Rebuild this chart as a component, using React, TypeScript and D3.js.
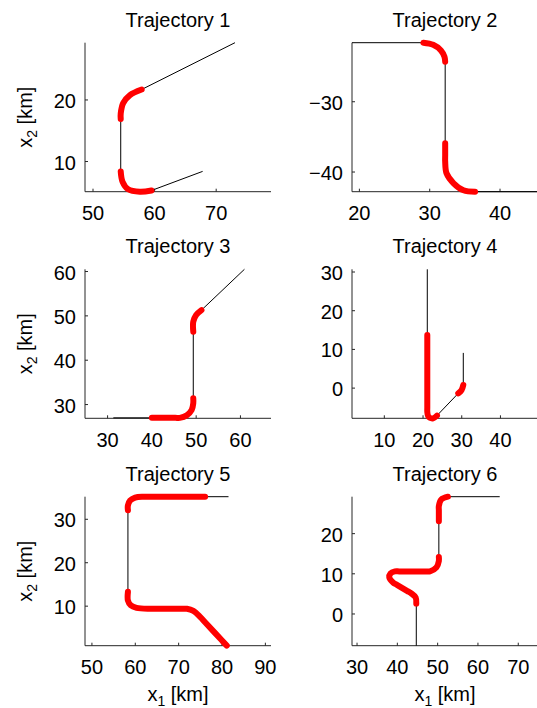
import React from 'react';
import * as d3 from 'd3';

type P = [number, number];

const titles = ['Trajectory 1', 'Trajectory 2', 'Trajectory 3', 'Trajectory 4', 'Trajectory 5', 'Trajectory 6'];

const xDomains: P[] = [
  [48.7, 78.9],
  [18.95, 45.4],
  [24.9, 66.9],
  [1.65, 49.7],
  [48.4, 91.3],
  [28.75, 74.9],
];
const yDomains: P[] = [
  [5.1, 29.3],
  [-42.8, -21.6],
  [26.9, 60.5],
  [-7.8, 30.7],
  [0.9, 35.2],
  [-7.9, 29.2],
];

const xTicks: number[][] = [
  [50, 60, 70],
  [20, 30, 40],
  [30, 40, 50, 60],
  [10, 20, 30, 40],
  [50, 60, 70, 80, 90],
  [30, 40, 50, 60, 70],
];
const yTicks: number[][] = [
  [10, 20],
  [-40, -30],
  [30, 40, 50, 60],
  [0, 10, 20, 30],
  [10, 20, 30],
  [0, 10, 20],
];

// pieces alternate: black (free flight), red (manoeuvre), black, ...
const traj1: P[][] = [
  [[73.05, 29.3], [57.9, 21.7]],
  [[57.9, 21.7], [56.0, 20.8], [54.9, 19.5], [54.5, 17.8], [54.5, 16.9]],
  [[54.5, 16.9], [54.5, 8.4]],
  [[54.5, 8.4], [54.8, 6.7], [55.7, 5.5], [57.6, 5.1], [59.5, 5.3]],
  [[59.5, 5.3], [67.8, 8.4]],
];
const traj2: P[][] = [
  [[18.95, -21.6], [29.1, -21.6]],
  [[29.1, -21.6], [30.5, -21.9], [31.6, -22.7], [32.1, -23.6], [32.2, -24.3]],
  [[32.2, -24.3], [32.2, -35.9]],
  [[32.2, -35.9], [32.2, -37.6], [32.2, -38.5], [32.4, -40.2], [33.4, -41.6], [34.8, -42.6], [36.45, -42.8]],
  [[36.45, -42.8], [45.4, -42.8]],
];
const traj3: P[][] = [
  [[31.3, 27.0], [40.0, 27.0]],
  [[40.0, 27.0], [45.3, 27.0], [46.3, 27.0], [47.9, 27.6], [49.0, 28.8], [49.35, 30.3], [49.35, 31.4]],
  [[49.35, 31.4], [49.35, 46.4]],
  [[49.35, 46.4], [49.35, 48.7], [50.0, 50.2], [51.2, 51.3]],
  [[51.2, 51.3], [60.9, 60.5]],
];
const traj4: P[][] = [
  [[21.1, 30.7], [21.1, 13.7]],
  [[21.1, 13.7], [21.1, -5.0], [21.1, -6.1], [21.3, -7.2], [21.8, -7.7], [22.6, -7.8], [23.6, -7.1]],
  [[23.6, -7.1], [29.1, -1.35]],
  [[29.1, -1.35], [29.95, -0.5], [30.4, 0.8]],
  [[30.4, 0.8], [30.4, 9.1]],
];
const traj5: P[][] = [
  [[81.5, 35.2], [76.1, 35.2]],
  [[76.1, 35.2], [63.0, 35.2], [61.9, 35.2], [59.95, 35.0], [58.8, 34.3], [58.3, 33.2], [58.3, 32.1]],
  [[58.3, 32.1], [58.3, 13.3]],
  [[58.3, 13.3], [58.3, 11.3], [58.95, 10.2], [60.3, 9.6], [63.4, 9.4], [64.5, 9.4], [70.8, 9.4], [71.9, 9.4], [73.4, 8.9], [75.0, 7.5], [76.2, 6.2], [79.9, 2.2], [81.1, 0.93]],
];
const traj6: P[][] = [
  [[44.7, -7.9], [44.7, 2.6]],
  [[44.7, 2.6], [44.55, 4.1], [43.5, 5.1], [42.5, 5.7], [40.0, 7.2], [39.0, 7.8], [38.0, 9.1], [38.3, 10.1], [39.4, 10.6], [40.5, 10.6], [47.0, 10.6], [48.1, 10.6], [49.7, 11.6], [50.3, 13.2], [50.3, 14.2]],
  [[50.3, 14.2], [50.3, 23.1]],
  [[50.3, 23.1], [50.3, 25.8], [50.3, 26.9], [50.9, 28.5], [52.55, 29.2]],
  [[52.55, 29.2], [65.4, 29.2]],
];
const trajectories = [traj1, traj2, traj3, traj4, traj5, traj6];

// layout
const W = 537;
const H = 708;
const colX = [85, 352];
const rowTop = [42.7, 269.3, 496.7];
const axW = 186;
const axH = 149;
const FONT = "'Liberation Sans', Arial, Helvetica, sans-serif";

const fmt = (v: number) => String(v).replace('-', '\u2212');

function Panel({ i }: { i: number }) {
  const col = i % 2;
  const row = Math.floor(i / 2);
  const x0 = colX[col];
  const top = rowTop[row];
  const bottom = top + axH;
  const x = d3.scaleLinear().domain(xDomains[i]).range([x0, x0 + axW]);
  const y = d3.scaleLinear().domain(yDomains[i]).range([bottom, top]);
  const pieces = trajectories[i];
  const line = d3
    .line<P>()
    .x((d) => x(d[0]))
    .y((d) => y(d[1]))
    .curve(d3.curveCatmullRom.alpha(0.5));
  const reds = pieces.filter((_, k) => k % 2 === 1);

  return (
    <g>
      <text x={x0 + axW / 2} y={top - 16} textAnchor="middle" fontSize={20} fill="#000" fontFamily={FONT}>
        {titles[i]}
      </text>
      <line x1={x0} y1={top} x2={x0} y2={bottom} stroke="#262626" strokeWidth={1} />
      <line x1={x0} y1={bottom} x2={x0 + axW} y2={bottom} stroke="#262626" strokeWidth={1} />
      {xTicks[i].map((t) => (
        <g key={'x' + t}>
          <line x1={x(t)} x2={x(t)} y1={bottom} y2={bottom - 3} stroke="#262626" strokeWidth={1} />
          <text x={x(t)} y={bottom + 28.5} textAnchor="middle" fontSize={20} fill="#000" fontFamily={FONT}>
            {fmt(t)}
          </text>
        </g>
      ))}
      {yTicks[i].map((t) => (
        <g key={'y' + t}>
          <line x1={x0} x2={x0 + 3} y1={y(t)} y2={y(t)} stroke="#262626" strokeWidth={1} />
          <text x={x0 - 9} y={y(t) + 8} textAnchor="end" fontSize={20} fill="#000" fontFamily={FONT}>
            {fmt(t)}
          </text>
        </g>
      ))}
      {pieces.map((seg, k) => (
        <path key={'b' + k} d={line(seg) || ''} fill="none" stroke="#000" strokeWidth={1} />
      ))}
      {reds.map((seg, k) => (
        <path
          key={'r' + k}
          d={line(seg) || ''}
          fill="none"
          stroke="#ff0000"
          strokeWidth={6}
          strokeLinecap="round"
          strokeLinejoin="round"
        />
      ))}
      {col === 0 && (
        <text
          transform={`translate(31.5,${top + axH / 2}) rotate(-90)`}
          textAnchor="middle"
          fontSize={20}
          fill="#000"
          fontFamily={FONT}
        >
          <tspan>x</tspan>
          <tspan fontSize={14} dy={5}>2</tspan>
          <tspan dy={-5}> [km]</tspan>
        </text>
      )}
      {row === 2 && (
        <text x={x0 + axW / 2} y={bottom + 55} textAnchor="middle" fontSize={20} fill="#000" fontFamily={FONT}>
          <tspan>x</tspan>
          <tspan fontSize={14} dy={5}>1</tspan>
          <tspan dy={-5}> [km]</tspan>
        </text>
      )}
    </g>
  );
}

export default function App() {
  return (
    <svg
      width={W}
      height={H}
      viewBox={`0 0 ${W} ${H}`}
      style={{ position: 'absolute', left: 0, top: 0, background: '#fff' }}
    >
      <rect x={0} y={0} width={W} height={H} fill="#fff" />
      {titles.map((_, i) => (
        <Panel key={i} i={i} />
      ))}
    </svg>
  );
}
